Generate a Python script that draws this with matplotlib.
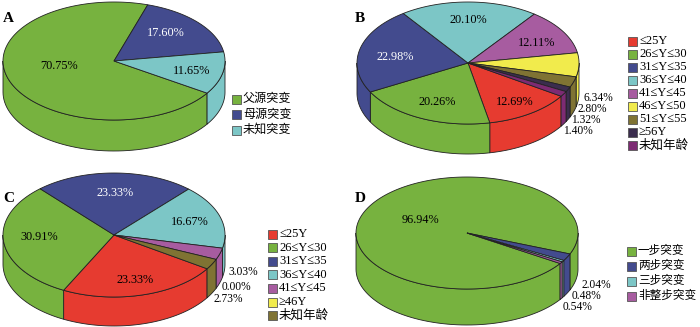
import numpy as np
import matplotlib
matplotlib.use('Agg')
import matplotlib.pyplot as plt
from matplotlib.patches import Polygon, Rectangle

plt.rcParams['font.family'] = ['Liberation Serif', 'Noto Sans CJK SC', 'DejaVu Sans']

# colours
GREEN = '#77B23F'
BLUE = '#434B8E'
CYAN = '#7CC6C6'
RED = '#E63B30'
MAGENTA = '#A75CA0'
YELLOW = '#F1EB4C'
OLIVE = '#7F7333'
DARK = '#3B2D4E'
PURPLE = '#7D2B73'

# data
a_labels = ['父源突变', '母源突变', '未知突变']
a_values = [70.75, 17.60, 11.65]

b_labels = ['≤25Y', '26≤Y≤30', '31≤Y≤35', '36≤Y≤40', '41≤Y≤45',
            '46≤Y≤50', '51≤Y≤55', '≥56Y', '未知年龄']
b_values = [12.69, 20.26, 22.98, 20.10, 12.11, 6.34, 2.80, 1.32, 1.40]

c_labels = ['≤25Y', '26≤Y≤30', '31≤Y≤35', '36≤Y≤40', '41≤Y≤45', '≥46Y', '未知年龄']
c_values = [23.33, 30.91, 23.33, 16.67, 3.03, 0.00, 2.73]

d_labels = ['一步突变', '两步突变', '三步突变', '非整步突变']
d_values = [96.94, 2.04, 0.48, 0.54]

EDGE = '#222222'
START = -33.0  # first slice starts here and runs clockwise


def ell(cx, cy, a, b, t):
    r = np.radians(t)
    return cx + a * np.cos(r), cy - b * np.sin(r)


def pie3d(ax, values, colors, cx, cy, a, b, depth):
    vals = np.array(values) / 100.0
    bounds = START - np.concatenate([[0], np.cumsum(vals)]) * 360.0
    # side walls (front half only: angles where sin < 0)
    for i, col in enumerate(colors):
        t1, t2 = bounds[i], bounds[i + 1]
        if t1 - t2 <= 0:
            continue
        for k in range(-3, 3):
            lo = max(t2, -180 + 360 * k)
            hi = min(t1, 360 * k)
            if hi - lo <= 0:
                continue
            ts = np.linspace(hi, lo, 60)
            x, y = ell(cx, cy, a, b, ts)
            pts = np.concatenate([np.c_[x, y], np.c_[x[::-1], y[::-1] + depth]])
            ax.add_patch(Polygon(pts, closed=True, fc=col, ec=EDGE, lw=0.6, zorder=2))
    # top face
    for i, col in enumerate(colors):
        t1, t2 = bounds[i], bounds[i + 1]
        if t1 - t2 <= 0:
            continue
        ts = np.linspace(t1, t2, max(int((t1 - t2) * 2), 4))
        x, y = ell(cx, cy, a, b, ts)
        pts = np.concatenate([[[cx, cy]], np.c_[x, y]])
        ax.add_patch(Polygon(pts, closed=True, fc=col, ec=EDGE, lw=0.6, zorder=3))


def legend(ax, labels, colors, x, y0, dy, size=9.0):
    for i, (lab, col) in enumerate(zip(labels, colors)):
        y = y0 + i * dy
        ax.add_patch(Rectangle((x, y - 4.5), 9, 9, fc=col, ec='#555555', lw=0.6, zorder=4))
        ax.text(x + 11, y, lab, fontsize=size, va='center', ha='left', zorder=5)


def labels(ax, values, positions, colors, size=8.8):
    for v, (x, y), c in zip(values, positions, colors):
        ax.text(x, y, '%.2f%%' % v, fontsize=size, ha='center', va='center', color=c, zorder=5)


fig = plt.figure(figsize=(7.0, 3.27), dpi=100)
ax = fig.add_axes([0, 0, 1, 1])
ax.set_xlim(0, 700)
ax.set_ylim(327, 0)
ax.axis('off')

# A
a_cols = [GREEN, BLUE, CYAN]
pie3d(ax, a_values, a_cols, 114, 61, 111, 59, 31)
labels(ax, a_values, [(59, 66), (166, 33), (192, 71)], ['black', 'white', 'black'])
legend(ax, a_labels, a_cols, 232, 99, 15.5, size=8.7)
ax.text(3, 18, 'A', fontsize=11, fontweight='bold', va='center', ha='left')

# B
b_cols = [RED, GREEN, BLUE, CYAN, MAGENTA, YELLOW, OLIVE, DARK, PURPLE]
pie3d(ax, b_values, b_cols, 468, 63, 111, 61, 30)
labels(ax, b_values[:5], [(515, 102), (437, 102), (395, 57), (468, 20), (537, 43)],
       ['black', 'black', 'white', 'black', 'black'])
labels(ax, b_values[5:], [(598, 98), (592, 109), (586, 120), (578, 131)], ['black'] * 4, size=8.3)
legend(ax, b_labels, b_cols, 628, 41, 13.0)
ax.text(355, 18, 'B', fontsize=11, fontweight='bold', va='center', ha='left')

# C
c_cols = [RED, GREEN, BLUE, CYAN, MAGENTA, YELLOW, OLIVE]
pie3d(ax, c_values, c_cols, 114, 235, 111, 62, 29)
labels(ax, c_values[:4], [(135, 280), (39, 237), (115, 193), (190, 222)],
       ['black', 'black', 'white', 'black'])
labels(ax, c_values[4:], [(243, 272), (236, 287), (228, 299)], ['black'] * 3, size=8.3)
legend(ax, c_labels, c_cols, 268, 234, 13.6)
ax.text(3, 198, 'C', fontsize=11, fontweight='bold', va='center', ha='left')

# D
d_cols = [GREEN, BLUE, CYAN, MAGENTA]
pie3d(ax, d_values, d_cols, 467, 233, 111, 56, 36)
labels(ax, d_values[:1], [(420, 220)], ['black'])
labels(ax, d_values[1:], [(596, 285), (587, 296), (578, 307)], ['black'] * 3, size=8.3)
legend(ax, d_labels, d_cols, 627, 251, 15.0, size=8.4)
ax.text(355, 198, 'D', fontsize=11, fontweight='bold', va='center', ha='left')

fig.savefig('out.png', dpi=100)
